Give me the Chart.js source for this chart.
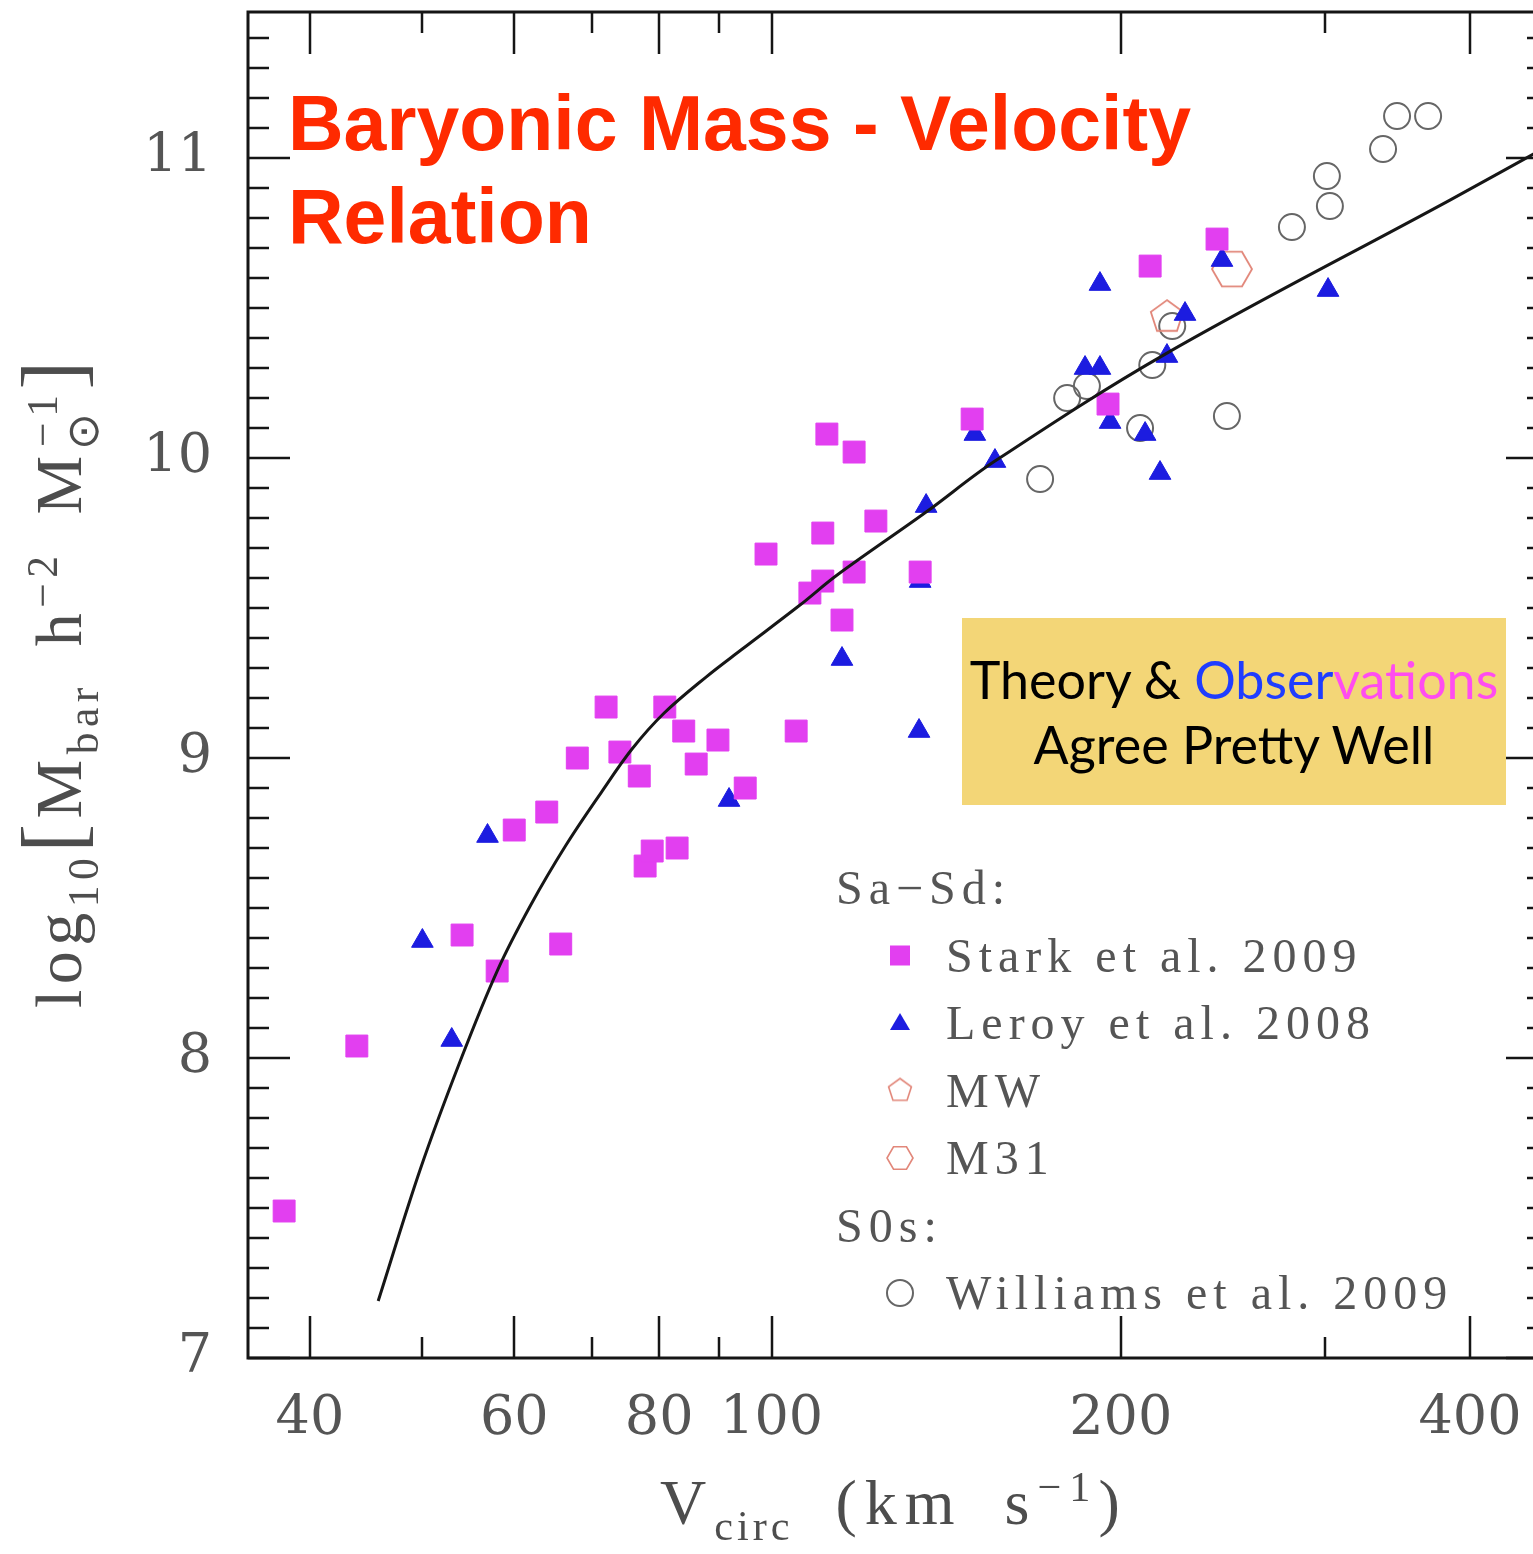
<!DOCTYPE html>
<html>
<head>
<meta charset="utf-8">
<script src="https://cdn.jsdelivr.net/npm/chart.js"></script>
<style>
  html, body { margin: 0; padding: 0; background: #fff; }
  #wrap { position: relative; width: 1533px; height: 1554px; overflow: hidden; }
  #holder { position: absolute; left: 0; top: 0; width: 1550px; height: 1554px; }
  #chart { position: absolute; left: 0; top: 0; width: 1550px; height: 1554px; }
  .title { position: absolute; left: 288px; top: 77px; font: bold 77px 'Liberation Sans', Arial, sans-serif;
           color: #ff2a00; line-height: 93px; white-space: nowrap; }
  .note { position: absolute; left: 962px; top: 618px; width: 544px; height: 187px; box-sizing: border-box;
          padding-top: 29px; background: #f3d677; font: 52px Lato, sans-serif; color: #000;
          text-align: center; line-height: 65px; white-space: nowrap; }
  .axt { position: absolute; font-family: 'Liberation Serif', serif; color: #4d4d4d; white-space: nowrap;
         line-height: 1; }
  .axt sub, .axt sup { font-size: 0.66em; position: relative; vertical-align: baseline; line-height: 0; }
  .axt sub { top: 0.38em; }
  .axt sup { top: -0.55em; }
  .big { font-size: 1.3em; line-height: 0; }
  #xtitle { left: 660px; top: 1471px; font-size: 64px; letter-spacing: 8px; word-spacing: 18px; }
  #xtitle sub { letter-spacing: 4px; }
  #ytitle { left: 26px; top: 1008px; font-size: 66px; letter-spacing: 5.5px; word-spacing: 14px;
            transform-origin: 0 0; transform: rotate(-90deg); }
</style>
</head>
<body>
<div id="wrap">
  <div id="holder"><canvas id="chart" width="1550" height="1554"></canvas></div>
  <div class="title">Baryonic Mass - Velocity<br>Relation</div>
  <div class="note">Theory &amp; <span style="color:#1f3dff">Obser</span><span style="color:#ff4cf0">vations</span><br>Agree Pretty Well</div>
  <div class="axt" id="xtitle">V<sub>circ</sub> (km s<sup>−1</sup>)</div>
  <div class="axt" id="ytitle">log<sub>10</sub><span class="big">[</span>M<sub>bar</sub> h<sup>−2</sup> M<sub>⊙</sub><sup style="margin-left:-0.9em">−1</sup><span class="big">]</span></div>
</div>
<script>
// Stark et al. 2009 (Sa-Sd), squares
const starkV = [38.0, 43.9, 54.1, 58.0, 60.0, 64.0, 65.8, 68.0, 72.0, 74.0, 76.9, 77.8, 78.9, 80.9, 82.9, 84.0, 86.1,
                89.9, 94.9, 98.9, 105.0, 107.9, 110.7, 110.7, 111.6, 115.0, 117.8, 117.8, 123.0, 134.3, 148.9, 195.0, 212.0, 242.1];
const starkM = [7.49, 8.04, 8.41, 8.29, 8.76, 8.82, 8.38, 9.00, 9.17, 9.02, 8.94, 8.64, 8.69, 9.17, 8.70, 9.09, 8.98,
                9.06, 8.90, 9.68, 9.09, 9.55, 9.75, 9.59, 10.08, 9.46, 9.62, 10.02, 9.79, 9.62, 10.13, 10.18, 10.64, 10.73];

// Leroy et al. 2008, triangles
const leroyV = [50.0, 53.0, 56.9, 91.9, 115.0, 134.0, 134.3, 135.9, 149.7, 155.8, 186.3, 191.9, 191.9, 195.8, 209.9, 216.2, 219.2, 227.2, 244.5, 301.8];
const leroyM = [8.39, 8.06, 8.74, 8.86, 9.33, 9.09, 9.59, 9.84, 10.08, 9.99, 10.30, 10.30, 10.58, 10.12, 10.08, 9.95, 10.34, 10.48, 10.66, 10.56];

// Williams et al. 2009 (S0s), open circles
const williamsV = [170.4, 179.8, 187.0, 207.8, 212.9, 221.5, 246.9, 280.9, 301.1, 302.9, 336.6, 346.1, 368.1];
const williamsM = [9.93, 10.20, 10.24, 10.10, 10.31, 10.44, 10.14, 10.77, 10.94, 10.84, 11.03, 11.14, 11.14];

const mwV = [219.2], mwM = [10.47];
const m31V = [249.4], m31M = [10.63];

// model relation (solid curve)
const curveV = [45.8, 49.8, 53.9, 58.0, 62.0, 66.5, 71.3, 75.8, 80.8, 87.8, 94.1, 105.8, 113.9, 135.9, 155.8, 219.2, 384.4, 466.9];
const curveM = [7.19, 7.63, 7.99, 8.29, 8.51, 8.71, 8.885, 9.03, 9.15, 9.27, 9.36, 9.51, 9.61, 9.82, 9.99, 10.35, 10.86, 11.04];

// axes
const xTicks = [40, 50, 60, 70, 80, 90, 100, 200, 300, 400];
const xLabels = [40, 60, 80, 100, 200, 400];
const yMin = 7, yMax = 11.487, yMinor = 0.1;

const pts = (v, m) => v.map((x, i) => ({ x: x, y: m[i] }));
const isWhole = v => Math.abs(v - Math.round(v)) < 1e-6;

function polygonMarker(sides, r, color, lw, start) {
  const size = Math.ceil(2 * r + 2 * lw + 2);
  const c = document.createElement('canvas');
  c.width = c.height = size;
  const g = c.getContext('2d');
  g.strokeStyle = color;
  g.lineWidth = lw;
  g.beginPath();
  for (let i = 0; i < sides; i++) {
    const a = start + i * 2 * Math.PI / sides;
    const px = size / 2 + r * Math.cos(a), py = size / 2 + r * Math.sin(a);
    if (i) g.lineTo(px, py); else g.moveTo(px, py);
  }
  g.closePath();
  g.stroke();
  return c;
}

const PINK = '#e23ff0', BLUE = '#1c1ce0', GREY = '#666', SALMON = '#e2877a';
const pentagon = polygonMarker(5, 17, SALMON, 1.8, -Math.PI / 2);
const hexagon = polygonMarker(6, 20, SALMON, 1.8, 0);
const pentagonSmall = polygonMarker(5, 12, SALMON, 1.6, -Math.PI / 2);
const hexagonSmall = polygonMarker(6, 13, SALMON, 1.6, 0);

const legendRows = [
  { text: 'Sa\u2212Sd:' },
  { text: 'Stark et al. 2009', mark: 'rect' },
  { text: 'Leroy et al. 2008', mark: 'triangle' },
  { text: 'MW', mark: pentagonSmall },
  { text: 'M31', mark: hexagonSmall },
  { text: 'S0s:' },
  { text: 'Williams et al. 2009', mark: 'circle' },
];

function drawMark(ctx, mark, x, y) {
  ctx.save();
  if (mark === 'rect') {
    ctx.fillStyle = PINK;
    ctx.fillRect(x - 10, y - 10, 20, 20);
  } else if (mark === 'triangle') {
    ctx.fillStyle = BLUE;
    ctx.beginPath();
    ctx.moveTo(x, y - 10);
    ctx.lineTo(x + 10, y + 7);
    ctx.lineTo(x - 10, y + 7);
    ctx.closePath();
    ctx.fill();
  } else if (mark === 'circle') {
    ctx.strokeStyle = GREY;
    ctx.lineWidth = 2;
    ctx.beginPath();
    ctx.arc(x, y, 13, 0, 2 * Math.PI);
    ctx.stroke();
  } else {
    ctx.drawImage(mark, x - mark.width / 2, y - mark.height / 2);
  }
  ctx.restore();
}

const frameAndTicks = {
  id: 'frameAndTicks',
  beforeDatasetsDraw(chart) {
    const { ctx, chartArea: a, scales: { x, y } } = chart;
    ctx.save();
    ctx.strokeStyle = '#151515';
    ctx.lineWidth = 2.5;
    ctx.beginPath();
    x.ticks.forEach(t => {
      const px = Math.round(x.getPixelForValue(t.value));
      const len = xLabels.includes(t.value) ? 42 : 21;
      ctx.moveTo(px, a.bottom); ctx.lineTo(px, a.bottom - len);
      ctx.moveTo(px, a.top); ctx.lineTo(px, a.top + len);
    });
    y.ticks.forEach(t => {
      const py = Math.round(y.getPixelForValue(t.value));
      const len = isWhole(t.value) ? 42 : 21;
      ctx.moveTo(a.left, py); ctx.lineTo(a.left + len, py);
      ctx.moveTo(a.right, py); ctx.lineTo(a.right - len, py);
    });
    ctx.stroke();
    ctx.lineWidth = 3;
    ctx.strokeRect(a.left, a.top, a.right - a.left, a.bottom - a.top);
    ctx.restore();
  },
  afterDraw(chart) {
    const ctx = chart.ctx;
    ctx.save();
    ctx.font = "48px 'Liberation Serif', serif";
    ctx.fillStyle = '#555';
    ctx.textBaseline = 'alphabetic';
    ctx.letterSpacing = '6px';
    legendRows.forEach((row, i) => {
      const cy = 888 + i * 67.5;
      if (row.mark) {
        drawMark(ctx, row.mark, 900, cy);
        ctx.fillText(row.text, 946, cy + 16);
      } else {
        ctx.fillText(row.text, 836, cy + 16);
      }
    });
    ctx.restore();
  }
};

new Chart(document.getElementById('chart'), {
  type: 'scatter',
  data: {
    datasets: [
      {
        label: 'model', data: pts(curveV, curveM), showLine: true, pointRadius: 0,
        borderColor: '#161616', borderWidth: 3, tension: 0.35
      },
      {
        label: 'Stark et al. 2009', data: pts(starkV, starkM), pointStyle: 'rect', pointRadius: 15.5,
        backgroundColor: PINK, borderColor: PINK, borderWidth: 1
      },
      {
        label: 'Leroy et al. 2008', data: pts(leroyV, leroyM), pointStyle: 'triangle', pointRadius: 12.5,
        backgroundColor: BLUE, borderColor: BLUE, borderWidth: 1
      },
      {
        label: 'MW', data: pts(mwV, mwM), pointStyle: pentagon, pointRadius: 10
      },
      {
        label: 'M31', data: pts(m31V, m31M), pointStyle: hexagon, pointRadius: 10
      },
      {
        label: 'Williams et al. 2009', data: pts(williamsV, williamsM), pointStyle: 'circle', pointRadius: 13,
        backgroundColor: 'rgba(0,0,0,0)', borderColor: GREY, borderWidth: 2
      }
    ]
  },
  options: {
    responsive: false,
    animation: false,
    events: [],
    devicePixelRatio: 1,
    layout: { autoPadding: false, padding: { top: 12, right: 2, left: 0, bottom: 0 } },
    plugins: { legend: { display: false }, tooltip: { enabled: false } },
    scales: {
      x: {
        type: 'logarithmic',
        min: 35.37, max: 467.0,
        grid: { display: false, drawTicks: false },
        border: { display: false },
        afterBuildTicks: s => { s.ticks = xTicks.map(v => ({ value: v })); },
        afterFit: s => { s.height = 196; s.paddingLeft = 0; s.paddingRight = 0; },
        ticks: {
          autoSkip: false, maxRotation: 0, padding: 30, color: '#555',
          font: { family: "'DejaVu Serif', serif", size: 54 },
          callback: v => xLabels.includes(v) ? String(v) : ''
        }
      },
      y: {
        min: yMin, max: yMax,
        grid: { display: false, drawTicks: false },
        border: { display: false },
        afterBuildTicks: s => {
          const out = [];
          for (let i = 0; yMin + i * yMinor <= yMax; i++) out.push({ value: Math.round((yMin + i * yMinor) * 10) / 10 });
          s.ticks = out;
        },
        afterFit: s => { s.width = 248; s.paddingTop = 0; s.paddingBottom = 0; },
        ticks: {
          autoSkip: false, padding: 36, color: '#555',
          font: { family: "'DejaVu Serif', serif", size: 54 },
          callback: v => isWhole(v) ? String(Math.round(v)) : ''
        }
      }
    }
  },
  plugins: [frameAndTicks]
});
</script>
</body>
</html>
